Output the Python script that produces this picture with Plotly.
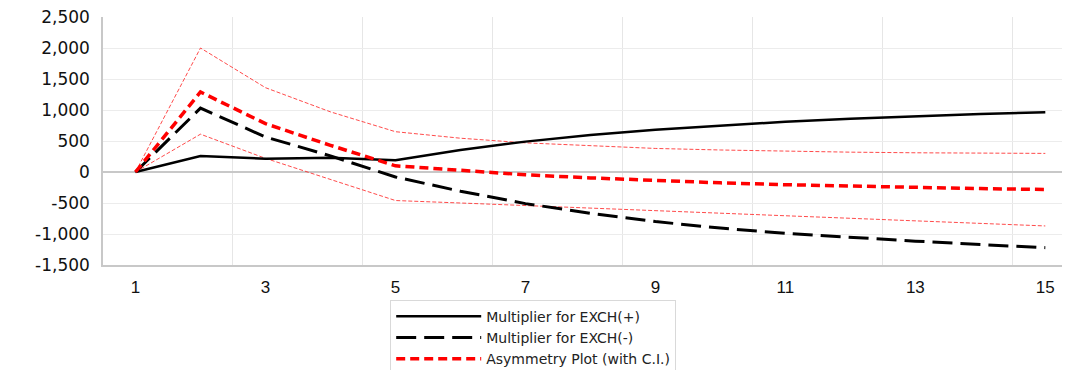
import plotly.graph_objects as go

periods = list(range(1, 16))
mult_pos = [0, 258, 215, 228, 188, 355, 490, 595, 680, 750, 810, 860, 900, 935, 965]
mult_neg = [0, 1030, 565, 260, -80, -310, -510, -665, -800, -905, -990, -1055, -1115, -1170, -1220]
asym = [0, 1290, 780, 430, 100, 25, -45, -95, -140, -175, -205, -230, -250, -268, -282]
upper_ci = [0, 2000, 1360, 970, 650, 545, 470, 420, 380, 355, 335, 320, 310, 305, 300]
lower_ci = [0, 610, 220, -120, -460, -500, -540, -590, -630, -670, -710, -750, -790, -830, -870]

y_ticks = [-1500, -1000, -500, 0, 500, 1000, 1500, 2000, 2500]
y_labels = ["-1,500", "-1,000", "-500", "0", "500", "1,000", "1,500", "2,000", "2,500"]
x_ticks = [1, 3, 5, 7, 9, 11, 13, 15]

fig = go.Figure()
fig.add_trace(go.Scatter(x=periods, y=upper_ci, mode="lines", showlegend=False,
                         line=dict(color="rgba(255,30,30,0.8)", width=1, dash="4px,2px")))
fig.add_trace(go.Scatter(x=periods, y=lower_ci, mode="lines", showlegend=False,
                         line=dict(color="rgba(255,30,30,0.8)", width=1, dash="4px,2px")))
fig.add_trace(go.Scatter(x=periods, y=mult_pos, mode="lines", name="Multiplier for EXCH(+)",
                         line=dict(color="black", width=2.5)))
fig.add_trace(go.Scatter(x=periods, y=mult_neg, mode="lines", name="Multiplier for EXCH(-)",
                         line=dict(color="black", width=3, dash="20px,8px")))
fig.add_trace(go.Scatter(x=periods, y=asym, mode="lines", name="Asymmetry Plot (with C.I.)",
                         line=dict(color="red", width=3.5, dash="9px,5px")))

fig.update_layout(
    width=1062, height=362,
    margin=dict(l=95, r=0, t=9, b=105, autoexpand=False),
    plot_bgcolor="white", paper_bgcolor="white",
    legend=dict(x=0.297, y=-0.14, xanchor="left", yanchor="top",
                bordercolor="#d9d9d9", borderwidth=1,
                font=dict(family="DejaVu Sans", size=14, color="#222"),
                itemwidth=85,
                traceorder="normal", tracegroupgap=0),
)
fig.update_xaxes(range=[0.5, 15.38], tickvals=x_ticks, showgrid=False,
                 showline=True, linecolor="#c8c8c8", linewidth=1.5,
                 tickfont=dict(family="Liberation Sans", size=17, color="#111"),
                 ticks="", zeroline=False, ticklabelstandoff=6,
                 minor=dict(tick0=2.5, dtick=2, showgrid=True, gridcolor="#e6e6e6", gridwidth=1))
fig.update_yaxes(range=[-1500, 2500], tickvals=y_ticks, ticktext=y_labels,
                 showgrid=True, gridcolor="#ececec", gridwidth=1,
                 zeroline=True, zerolinecolor="#c8c8c8", zerolinewidth=1.5,
                 showline=True, linecolor="#c8c8c8", linewidth=1.5, ticklabelstandoff=8,
                 ticklabeloverflow="allow",
                 tickfont=dict(family="DejaVu Sans", size=17, color="#111"))

fig.write_html("out.html")
